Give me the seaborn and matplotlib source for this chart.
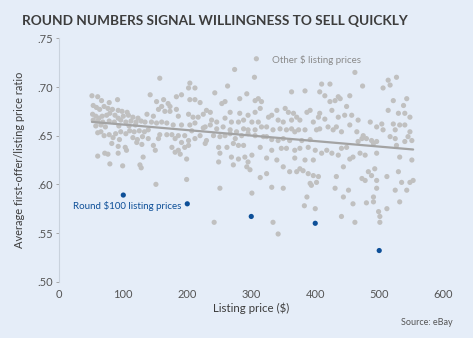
import matplotlib
matplotlib.use("Agg")
import matplotlib.pyplot as plt
import seaborn as sns
import pandas as pd

# ---- data ----
other_price = [
    51, 60, 91, 66, 78,
    53, 58, 63, 70, 76, 83, 92, 98, 106,
    52, 57, 62, 67, 74, 79, 87, 92, 100, 108, 115, 123,
    53, 60, 68, 78, 86, 96, 104, 112, 120, 128,
    57, 65, 72, 93, 109, 119,
    60, 65, 70, 78, 88, 96, 104, 110, 117, 125, 133,
    84, 94, 115, 122, 130,
    82, 92, 103, 129, 121,
    71, 76, 92, 105,
    60, 79, 99, 126, 128, 131,
    157,
    204, 212, 202, 142, 183, 191, 204, 212, 220,
    152, 163, 170, 160, 173, 155, 165, 173, 183,
    137, 147, 186, 202, 209, 217, 225,
    134, 144, 152, 160, 168, 178, 191, 204, 212, 225,
    139, 157, 168, 176, 186, 196, 207, 220,
    139, 155, 181, 191, 202, 212,
    176, 186, 196, 202, 147, 150,
    189, 199, 181,
    199, 151,
    308, 274, 305, 263, 243, 293, 282, 306, 311, 316, 254, 259,
    230, 236, 267, 282, 295, 306, 314,
    238, 246, 259, 269, 280, 288, 301, 311,
    228, 236, 246, 256, 267, 277, 288, 295, 306, 316,
    230, 241, 251, 259, 267, 275, 285, 295, 306, 319,
    228, 249, 262, 272, 280, 288,
    251, 269, 280, 290, 301, 314,
    249, 272, 295, 293, 298,
    314, 251, 301, 242,
    363, 384, 407, 410,
    340, 353, 358, 366, 387, 392, 407,
    327, 332, 342, 350, 363, 371, 376, 397, 405,
    324, 334, 345, 355, 363, 368, 374, 384, 402, 407,
    324, 332, 342, 350, 360, 379, 392,
    332, 347, 355, 368, 376, 389, 400, 410,
    324, 340, 368, 384, 397,
    350, 360, 371, 376, 381, 389, 397, 405,
    324, 332, 350, 392, 394, 402,
    387, 383, 400, 334, 342,
    462, 423, 474, 506,
    415, 436, 454,
    423, 431, 439, 449, 426,
    415, 436, 446, 457, 467, 486, 496, 504, 506,
    420, 428, 433, 441, 454, 465, 475, 480, 488, 496,
    467, 473, 491,
    418, 426, 436, 441, 449, 454, 459, 470, 478, 496,
    444,
    433, 483, 493, 488, 473, 478, 496,
    431, 452, 496,
    444, 491,
    459, 480, 491,
    441, 462,
    499, 501, 501,
    527, 514, 517,
    522, 543, 538, 514, 530, 540, 548, 522, 532, 540, 525, 548, 517, 525, 545, 551, 540,
    527, 532, 551,
    512, 530, 535, 548, 553, 525, 543,
    532, 512,
]
other_ratio = [
    0.691, 0.690, 0.687, 0.686, 0.684,
    0.681, 0.679, 0.677, 0.680, 0.678, 0.677, 0.676, 0.675, 0.674,
    0.672, 0.670, 0.668, 0.670, 0.671, 0.673, 0.671, 0.668, 0.670, 0.671, 0.669, 0.668,
    0.666, 0.665, 0.664, 0.665, 0.664, 0.666, 0.664, 0.665, 0.664, 0.665,
    0.660, 0.661, 0.659, 0.660, 0.660, 0.661,
    0.653, 0.654, 0.650, 0.651, 0.652, 0.654, 0.652, 0.655, 0.654, 0.655, 0.654,
    0.648, 0.646, 0.648, 0.646, 0.649,
    0.642, 0.639, 0.638, 0.641, 0.643,
    0.632, 0.631, 0.632, 0.635,
    0.629, 0.621, 0.619, 0.620, 0.617, 0.628,
    0.709,
    0.704, 0.699, 0.699, 0.692, 0.690, 0.692, 0.687, 0.687, 0.684,
    0.685, 0.687, 0.683, 0.680, 0.680, 0.677, 0.675, 0.675, 0.677,
    0.672, 0.670, 0.670, 0.672, 0.669, 0.669, 0.672,
    0.664, 0.664, 0.663, 0.664, 0.663, 0.661, 0.661, 0.661, 0.663, 0.658,
    0.656, 0.651, 0.651, 0.651, 0.650, 0.650, 0.655, 0.650,
    0.647, 0.647, 0.647, 0.643, 0.645, 0.647,
    0.638, 0.635, 0.638, 0.640, 0.640, 0.635,
    0.631, 0.626, 0.633,
    0.605, 0.600,
    0.729, 0.718, 0.710, 0.701, 0.694, 0.693, 0.688, 0.686, 0.688, 0.685, 0.683, 0.685,
    0.676, 0.674, 0.674, 0.673, 0.671, 0.674, 0.678,
    0.666, 0.664, 0.668, 0.664, 0.664, 0.666, 0.664, 0.664,
    0.659, 0.661, 0.657, 0.659, 0.656, 0.654, 0.657, 0.656, 0.656, 0.659,
    0.645, 0.650, 0.649, 0.650, 0.652, 0.647, 0.650, 0.652, 0.650, 0.649,
    0.642, 0.638, 0.638, 0.642, 0.640, 0.640,
    0.632, 0.628, 0.626, 0.628, 0.630, 0.638,
    0.623, 0.620, 0.623, 0.618, 0.615,
    0.607, 0.596, 0.591, 0.561,
    0.695, 0.696, 0.695, 0.703,
    0.676, 0.678, 0.674, 0.673, 0.674, 0.676, 0.673,
    0.669, 0.671, 0.666, 0.664, 0.666, 0.669, 0.666, 0.664, 0.669,
    0.659, 0.656, 0.657, 0.656, 0.657, 0.654, 0.656, 0.656, 0.656, 0.657,
    0.649, 0.646, 0.645, 0.647, 0.645, 0.645, 0.646,
    0.635, 0.637, 0.637, 0.635, 0.637, 0.638, 0.635, 0.632,
    0.627, 0.625, 0.627, 0.625, 0.625,
    0.618, 0.613, 0.613, 0.616, 0.614, 0.611, 0.609, 0.608,
    0.611, 0.597, 0.596, 0.601, 0.599, 0.602,
    0.587, 0.578, 0.575, 0.561, 0.549,
    0.715, 0.703, 0.701, 0.699,
    0.691, 0.690, 0.691,
    0.685, 0.686, 0.688, 0.680, 0.676,
    0.667, 0.669, 0.671, 0.671, 0.666, 0.664, 0.659, 0.662, 0.656,
    0.659, 0.656, 0.659, 0.654, 0.661, 0.654, 0.650, 0.647, 0.645, 0.644,
    0.644, 0.647, 0.642,
    0.635, 0.632, 0.630, 0.637, 0.638, 0.626, 0.628, 0.632, 0.630, 0.632,
    0.618,
    0.608, 0.613, 0.616, 0.609, 0.606, 0.604, 0.604,
    0.596, 0.594, 0.596,
    0.587, 0.587,
    0.580, 0.581, 0.582,
    0.567, 0.561,
    0.572, 0.567, 0.561,
    0.710, 0.707, 0.702,
    0.686, 0.688, 0.681, 0.676, 0.673, 0.673, 0.669, 0.662, 0.661, 0.661, 0.656, 0.654, 0.649, 0.647, 0.649, 0.645, 0.644,
    0.640, 0.628, 0.625,
    0.608, 0.613, 0.602, 0.602, 0.604, 0.594, 0.594,
    0.582, 0.575,
]
round_price = [100, 200, 300, 400, 500]
round_ratio = [0.589, 0.580, 0.567, 0.560, 0.532]

x_ticks = [0, 100, 200, 300, 400, 500, 600]
y_ticks = [0.50, 0.55, 0.60, 0.65, 0.70, 0.75]
y_tick_labels = [".50", ".55", ".60", ".65", ".70", ".75"]

# ---- styling ----
BG = "#e5edf8"
GRAY_PT = "#c0c0c0"
LINE = "#a3a3a3"
BLUE = "#0d4f98"
TXT = "#3d3d3d"

sns.set_theme(style="white")
plt.rcParams["font.family"] = ["Lato", "DejaVu Sans"]

others = pd.DataFrame({"price": other_price, "ratio": other_ratio})
rounds = pd.DataFrame({"price": round_price, "ratio": round_ratio})

fig = plt.figure(figsize=(4.73, 3.38), dpi=100, facecolor=BG)
ax = fig.add_axes([0.1254, 0.1666, 0.8116, 0.72])
ax.set_facecolor(BG)

sns.scatterplot(data=others, x="price", y="ratio", ax=ax, color=GRAY_PT,
                s=14, edgecolor="none", linewidth=0, zorder=2)
sns.regplot(data=others, x="price", y="ratio", ax=ax, scatter=False, ci=None,
            line_kws={"color": LINE, "lw": 1.6, "zorder": 3})
sns.scatterplot(data=rounds, x="price", y="ratio", ax=ax, color=BLUE,
                s=14, edgecolor="none", linewidth=0, zorder=4)

ax.set_xlim(0, 600)
ax.set_ylim(0.50, 0.75)
ax.set_xticks(x_ticks)
ax.set_xticklabels([str(v) for v in x_ticks])
ax.set_yticks(y_ticks)
ax.set_yticklabels(y_tick_labels)
ax.tick_params(axis="y", length=2.5, width=0.6, color="#9a9a9a", pad=2,
               labelsize=8, labelcolor="#555555", left=True)
ax.tick_params(axis="x", length=0, pad=5, labelsize=8, labelcolor="#555555")

for side in ["top", "right", "bottom"]:
    ax.spines[side].set_visible(False)
ax.spines["left"].set_color("#c9d2dd")
ax.spines["left"].set_linewidth(0.8)

ax.set_xlabel("Listing price ($)", fontsize=8.3, color=TXT, labelpad=2)
ax.set_ylabel("Average first-offer/listing price ratio", fontsize=7.9,
              color=TXT, labelpad=9)

ax.text(332, 0.728, "Other $ listing prices", fontsize=7, color="#8a8a8a",
        va="center", ha="left")
ax.text(21, 0.578, "Round $100 listing prices", fontsize=7, color=BLUE,
        va="center", ha="left")

fig.text(0.047, 0.938, "ROUND NUMBERS SIGNAL WILLINGNESS TO SELL QUICKLY",
         fontsize=9.8, fontweight="bold", color=TXT, ha="left", va="center")
fig.text(0.957, 0.045, "Source: eBay", fontsize=6.5, color="#555555",
         ha="right", va="center")

fig.savefig("out.png", dpi=100, facecolor=BG)
